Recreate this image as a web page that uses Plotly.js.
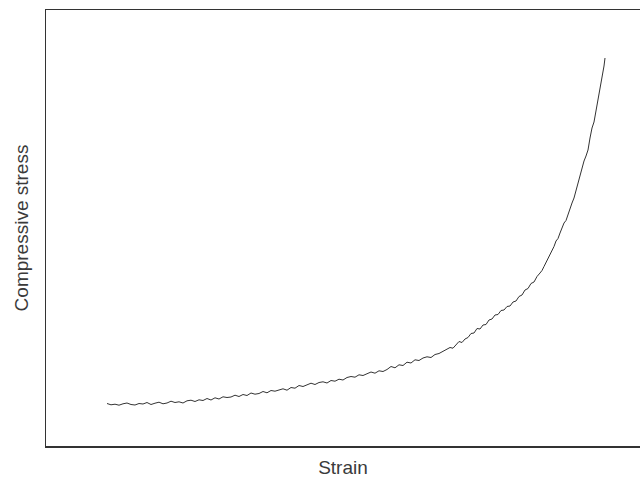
<!DOCTYPE html>
<html>
<head>
<meta charset="utf-8">
<script src="https://cdn.plot.ly/plotly-3.0.1.min.js"></script>
<style>html,body{margin:0;padding:0;background:#fff;overflow:hidden}</style>
</head>
<body>
<div id="chart" style="width:640px;height:478px"></div>
<script>
var strain = [
6.1,6.5,6.9,7.3,7.7,8.1,8.5,8.9,9.3,9.7,10.1,10.5,10.9,11.3,11.7,12.1,12.5,12.9,13.3,13.7,14.1,14.5,14.9,15.3,
15.7,16.1,16.5,16.9,17.3,17.7,18.1,18.5,18.9,19.3,19.7,20.1,20.5,20.9,21.3,21.7,22.1,22.5,22.9,23.3,23.7,24.1,24.5,24.9,25.3,
25.7,26.1,26.5,26.9,27.3,27.7,28.1,28.5,28.9,29.3,29.7,30.1,30.5,30.9,31.3,31.7,32.1,32.5,32.9,33.3,33.7,34.1,34.5,34.9,35.3,
35.7,36.1,36.5,36.9,37.3,37.7,38.1,38.5,38.9,39.3,39.7,40.1,
40.4,40.7,41.0,41.3,41.6,41.9,42.2,42.5,42.8,43.1,43.4,43.7,44.0,44.3,44.6,44.9,45.2,45.5,45.8,46.1,46.4,46.7,47.0,47.3,47.6,47.9,48.2,48.5,48.8,49.1,49.4,
49.6,49.8,50.0,50.2,50.4,50.6,50.8,51.0,51.2,51.4,51.6,51.8,52.0,52.2,52.4,52.6,52.8,53.0,53.2,53.4,53.6,53.8,54.0,54.2,54.4,54.6,54.8,55.0,55.2,55.4,55.6,55.8,55.9
];
var stress = [
4.25,4.12,4.18,4.08,4.22,4.3,4.15,4.1,4.25,4.2,4.35,4.15,4.28,4.38,4.22,4.3,4.48,4.35,4.42,4.3,4.52,4.58,4.45,4.62,
4.55,4.75,4.6,4.82,4.7,4.92,4.85,4.9,5.08,4.95,5.15,5.05,5.3,5.18,5.25,5.45,5.32,5.55,5.48,5.6,5.72,5.58,5.85,5.78,6.05,
5.95,6.12,6.28,6.15,6.35,6.42,6.3,6.55,6.48,6.68,6.6,6.85,6.95,6.88,7.12,7.05,7.25,7.4,7.28,7.52,7.45,7.65,7.95,7.82,8.12,
8.05,8.38,8.3,8.62,8.55,8.8,8.92,8.85,9.15,9.25,9.5,9.7,
9.85,9.78,10.1,10.45,10.35,10.7,10.85,11.25,11.3,11.75,11.7,12.1,12.15,12.6,12.7,13.1,13.15,13.55,13.6,13.95,14.0,14.4,14.5,14.95,15.1,15.6,15.75,16.25,16.4,16.95,17.3,
17.55,17.95,18.35,18.7,19.1,19.6,19.95,20.5,20.75,21.3,21.75,22.3,22.55,23.2,23.6,24.3,24.8,25.6,26.3,27.2,27.9,28.5,29.0,29.6,30.8,31.8,32.4,33.5,34.4,35.6,36.8,38.0,38.8
];
var xTitle = "Strain";
var yTitle = "Compressive stress";

var trace = {
  x: strain, y: stress, type: 'scatter', mode: 'lines',
  line: {color: '#333333', width: 1},
  hoverinfo: 'skip'
};
var layout = {
  width: 640, height: 478,
  margin: {l: 46, r: 0, t: 10, b: 32},
  paper_bgcolor: '#ffffff', plot_bgcolor: '#ffffff',
  showlegend: false,
  font: {family: 'Liberation Sans, Arial, sans-serif', color: '#333333', size: 19},
  xaxis: {
    range: [0, 59.4], showgrid: false, zeroline: false,
    showticklabels: false, ticks: '',
    showline: true, mirror: true, linecolor: '#333333', linewidth: 1.5,
    title: {text: xTitle, standoff: 14, font: {size: 19, color: '#3a3a3a'}}
  },
  yaxis: {
    range: [0, 43.6], showgrid: false, zeroline: false,
    showticklabels: false, ticks: '',
    showline: true, mirror: false, linecolor: '#333333', linewidth: 1.5,
    title: {text: yTitle, standoff: 11, font: {size: 19, color: '#3a3a3a'}}
  }
};
Plotly.newPlot('chart', [trace], layout, {staticPlot: true, displayModeBar: false});
</script>
</body>
</html>
